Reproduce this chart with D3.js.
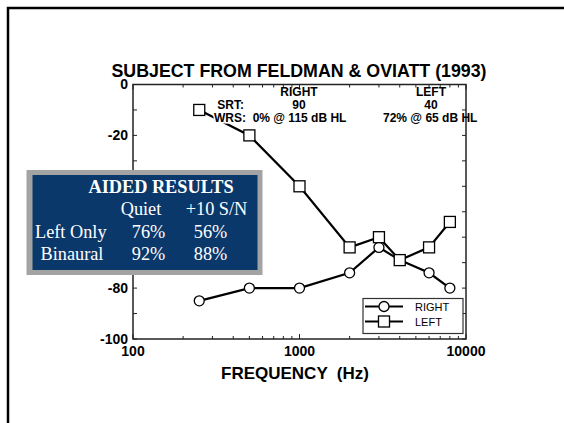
<!DOCTYPE html>
<html>
<head>
<meta charset="utf-8">
<script src="https://cdn.jsdelivr.net/npm/d3@7"></script>
<style>
  body { margin: 0; background: #fff; }
  svg { display: block; }
  .sans { font-family: "Liberation Sans", Arial, sans-serif; font-weight: bold; }
  .serif { font-family: "Liberation Serif", "Times New Roman", serif; fill: #fff; }
</style>
</head>
<body>
<div class="chart"></div>
<script>
// audiogram data (dB HL plotted as negative)
var freqs = [250, 500, 1000, 2000, 3000, 4000, 6000, 8000];
var rightDb = [-85, -80, -80, -74, -64, -69, -74, -80];
var leftDb = [-10, -20, -40, -64, -60, -69, -64, -54];

var xTickLabels = [100, 1000, 10000];
var yTickLabels = [0, -20, -40, -60, -80, -100];

var tableCols = ["Quiet", "+10 S/N"];
var tableRows = ["Left Only", "Binaural"];
var tableVals = [["76%", "56%"], ["92%", "88%"]];

var width = 564, height = 423;

var svg = d3.select(".chart").append("svg")
  .attr("width", width)
  .attr("height", height);

// page frame
svg.append("path")
  .attr("d", "M8,423 V8 H564")
  .attr("fill", "none").attr("stroke", "#000").attr("stroke-width", 2.5);

var x = d3.scaleLog().domain([100, 10000]).range([133, 466]);
var y = d3.scaleLinear().domain([0, -100]).range([84.5, 339]);

var g = svg.append("g");

// plot frame
g.append("rect")
  .attr("x", x(100)).attr("y", y(0))
  .attr("width", x(10000) - x(100)).attr("height", y(-100) - y(0))
  .attr("fill", "none").attr("stroke", "#222").attr("stroke-width", 1.5);

// x ticks, inward on top and bottom
var xTickVals = x.ticks();
xTickVals.forEach(function(v) {
  var major = xTickLabels.indexOf(v) >= 0;
  var len = major ? 5 : 3;
  g.append("line").attr("x1", x(v)).attr("x2", x(v))
    .attr("y1", y(-100)).attr("y2", y(-100) - len)
    .attr("stroke", "#222").attr("stroke-width", 1);
  g.append("line").attr("x1", x(v)).attr("x2", x(v))
    .attr("y1", y(0)).attr("y2", y(0) + len)
    .attr("stroke", "#222").attr("stroke-width", 1);
});

// y ticks, inward left and right
d3.range(0, -101, -10).forEach(function(v) {
  g.append("line").attr("x1", x(100)).attr("x2", x(100) + 4)
    .attr("y1", y(v)).attr("y2", y(v)).attr("stroke", "#222");
  g.append("line").attr("x1", x(10000)).attr("x2", x(10000) - 4)
    .attr("y1", y(v)).attr("y2", y(v)).attr("stroke", "#222");
});

g.selectAll(".ylab").data(yTickLabels).enter().append("text")
  .attr("class", "sans")
  .attr("x", x(100) - 5).attr("y", function(d) { return y(d) + 4.5; })
  .attr("text-anchor", "end").attr("font-size", 14)
  .text(function(d) { return d; });

g.selectAll(".xlab").data(xTickLabels).enter().append("text")
  .attr("class", "sans")
  .attr("x", function(d) { return x(d); }).attr("y", 356)
  .attr("text-anchor", "middle").attr("font-size", 14)
  .text(function(d) { return d; });

svg.append("text").attr("class", "sans")
  .attr("x", 299).attr("y", 77).attr("text-anchor", "middle")
  .attr("font-size", 17.8)
  .text("SUBJECT FROM FELDMAN & OVIATT (1993)");

svg.append("text").attr("class", "sans")
  .attr("x", 295).attr("y", 379).attr("text-anchor", "middle")
  .attr("font-size", 17).attr("xml:space", "preserve")
  .text("FREQUENCY  (Hz)");

// series
var line = d3.line()
  .x(function(d) { return x(d[0]); })
  .y(function(d) { return y(d[1]); });

var rightPts = d3.zip(freqs, rightDb);
var leftPts = d3.zip(freqs, leftDb);

g.append("path").datum(rightPts).attr("d", line)
  .attr("fill", "none").attr("stroke", "#000").attr("stroke-width", 2.2);
g.append("path").datum(leftPts).attr("d", line)
  .attr("fill", "none").attr("stroke", "#000").attr("stroke-width", 2.2);

// annotation text (white halo breaks the line under it)
var ann = svg.append("g").attr("class", "sans").attr("font-size", 12);
ann.append("text").attr("x", 299).attr("y", 96).attr("text-anchor", "middle").text("RIGHT");
ann.append("text").attr("x", 431).attr("y", 96).attr("text-anchor", "middle").text("LEFT");
ann.append("text").attr("x", 244).attr("y", 108.5).attr("text-anchor", "end").text("SRT:");
ann.append("text").attr("x", 299).attr("y", 108.5).attr("text-anchor", "middle").text("90");
ann.append("text").attr("x", 431).attr("y", 108.5).attr("text-anchor", "middle").text("40");
ann.append("text").attr("x", 214).attr("y", 121.5)
  .attr("stroke", "#fff").attr("stroke-width", 3).attr("paint-order", "stroke")
  .attr("xml:space", "preserve").text("WRS:  0% @ 115 dB HL");
ann.append("text").attr("x", 383).attr("y", 121.5).text("72% @ 65 dB HL");

g.selectAll(".circ").data(rightPts).enter().append("circle")
  .attr("cx", function(d) { return x(d[0]); })
  .attr("cy", function(d) { return y(d[1]); })
  .attr("r", 5).attr("fill", "#fff").attr("stroke", "#000").attr("stroke-width", 1.3);

g.selectAll(".sq").data(leftPts).enter().append("rect")
  .attr("x", function(d) { return x(d[0]) - 5.5; })
  .attr("y", function(d) { return y(d[1]) - 5.5; })
  .attr("width", 11).attr("height", 11)
  .attr("fill", "#fff").attr("stroke", "#000").attr("stroke-width", 1.3);

// legend
var leg = svg.append("g");
leg.append("rect").attr("x", 363).attr("y", 298.5).attr("width", 100).attr("height", 35)
  .attr("fill", "#fff").attr("stroke", "#333").attr("stroke-width", 1.2);
[["RIGHT", 306.5], ["LEFT", 321.5]].forEach(function(e, i) {
  leg.append("line").attr("x1", 365).attr("x2", 403).attr("y1", e[1]).attr("y2", e[1])
    .attr("stroke", "#000").attr("stroke-width", 2.2);
  if (i == 0) {
    leg.append("circle").attr("cx", 384).attr("cy", e[1]).attr("r", 5)
      .attr("fill", "#fff").attr("stroke", "#000").attr("stroke-width", 1.3);
  } else {
    leg.append("rect").attr("x", 378.5).attr("y", e[1] - 5.5).attr("width", 11).attr("height", 11)
      .attr("fill", "#fff").attr("stroke", "#000").attr("stroke-width", 1.3);
  }
  leg.append("text").attr("x", 415).attr("y", e[1] + 4)
    .attr("font-family", "Liberation Sans, Arial, sans-serif")
    .attr("font-size", 11).text(e[0]);
});

// aided results box
var box = svg.append("g");
box.append("rect").attr("x", 26.5).attr("y", 170).attr("width", 236).attr("height", 105)
  .attr("fill", "#a3a3a3");
box.append("rect").attr("x", 32.5).attr("y", 175).attr("width", 225).attr("height", 95)
  .attr("fill", "#0b386b");
box.append("text").attr("class", "serif").attr("font-weight", "bold")
  .attr("x", 161).attr("y", 192.5).attr("text-anchor", "middle").attr("font-size", 18.3)
  .text("AIDED RESULTS");
var colX = [141, 216.5];
tableCols.forEach(function(c, i) {
  box.append("text").attr("class", "serif").attr("x", colX[i]).attr("y", 215)
    .attr("text-anchor", "middle").attr("font-size", 18.3).text(c);
});
var rowY = [238, 260];
var valX = [148.5, 210.5];
tableRows.forEach(function(r, j) {
  box.append("text").attr("class", "serif").attr("x", j == 0 ? 35 : 40.5).attr("y", rowY[j])
    .attr("font-size", 18.3).text(r);
  tableVals[j].forEach(function(v, i) {
    box.append("text").attr("class", "serif").attr("x", valX[i]).attr("y", rowY[j])
      .attr("text-anchor", "middle").attr("font-size", 18.3).text(v);
  });
});
</script>
</body>
</html>
